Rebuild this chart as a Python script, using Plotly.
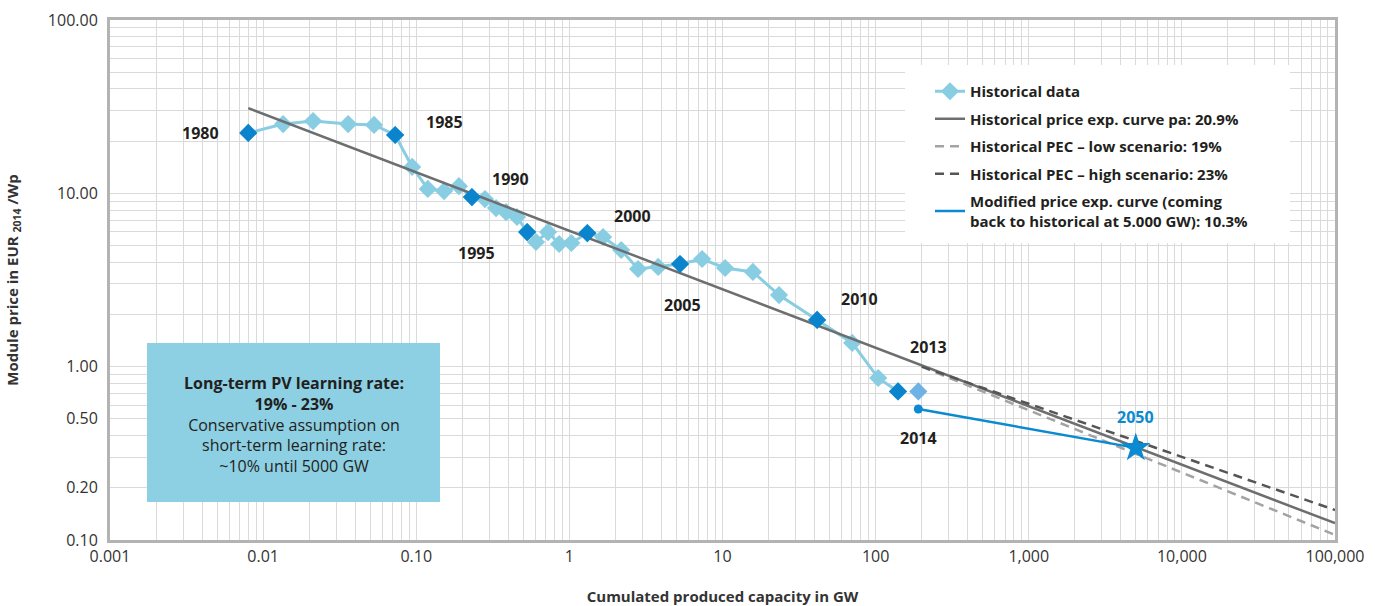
import math
import plotly.graph_objects as go

# Historical module prices, 1980-2013 (cumulated GW, EUR2014/Wp)
years = list(range(1980, 2014))
hist_capacity = [0.008, 0.0135, 0.0212, 0.0359, 0.053, 0.0728, 0.094, 0.119, 0.152, 0.190,
                 0.231, 0.281, 0.332, 0.386, 0.455, 0.530, 0.605, 0.726, 0.857, 1.03,
                 1.31, 1.66, 2.18, 2.81, 3.80, 5.28, 7.36, 10.4, 15.8, 23.4,
                 41.5, 70.3, 104, 140]
hist_price = [22.3, 25.1, 26.1, 25.1, 24.8, 21.7, 14.2, 10.6, 10.3, 11.0,
              9.52, 9.27, 8.22, 7.80, 7.30, 5.98, 5.24, 5.98, 5.10, 5.17,
              5.90, 5.60, 4.71, 3.66, 3.76, 3.91, 4.18, 3.71, 3.52, 2.59,
              1.86, 1.37, 0.86, 0.72]
highlight_years = [1980, 1985, 1990, 1995, 2000, 2005, 2010, 2013]

# 2014 estimate
cap_2014 = [190]
price_2014 = [0.72]

# Experience curves (end points)
pec_capacity = [0.008, 100000]
pec_price = [31.0, 0.125]
low_capacity = [200, 100000]
low_price = [1.0, 0.107]
high_capacity = [200, 100000]
high_price = [1.0, 0.149]
mod_capacity = [190, 5000]
mod_price = [0.57, 0.34]

# Year labels: (capacity, price, text)
year_notes = [
    (0.0039, 22.3, "1980"), (0.154, 25.8, "1985"), (0.41, 12.1, "1990"),
    (0.249, 4.52, "1995"), (2.57, 7.4, "2000"), (5.45, 2.27, "2005"),
    (79, 2.45, "2010"), (220, 1.30, "2013"), (190, 0.387, "2014"),
]
note_2050 = (5000, 0.51, "2050")

# Axis ticks
x_labels = {0.001: "0.001", 0.01: "0.01", 0.1: "0.10", 1: "1", 10: "10", 100: "100",
            1000: "1,000", 10000: "10,000", 100000: "100,000"}
y_labels = {0.1: "0.10", 0.2: "0.20", 0.5: "0.50", 1: "1.00", 10: "10.00", 100: "100.00"}

LIGHT = "#88cde2"
DARK = "#0a84cc"
MID = "#6fb2e4"
BLUE = "#0a8ad0"
TEXT = "#231f20"
FONT = "Open Sans"

# plot area in pixels
L, R, T, B = 110, 1335, 20, 540


def px_x(p):
    return (p - L) / (R - L)


def px_y(p):
    return 1 - (p - T) / (B - T)


def grid_values(lo_exp, hi_exp):
    vals = []
    for e in range(lo_exp, hi_exp):
        for k in range(1, 10):
            vals.append(round(k * 10 ** e, 10))
    vals.append(10 ** hi_exp)
    return vals


def label_for(v, labels):
    for key, txt in labels.items():
        if abs(key - v) < 1e-9 * max(1, v):
            return txt
    return ""


x_ticks = grid_values(-3, 5)
y_ticks = grid_values(-1, 2)
x_text = [label_for(v, x_labels) for v in x_ticks]
y_text = [label_for(v, y_labels) for v in y_ticks]

fig = go.Figure()

fig.add_trace(go.Scatter(
    x=hist_capacity, y=hist_price, mode="lines+markers", name="Historical data",
    legendgroup="a", line=dict(color=LIGHT, width=3),
    marker=dict(symbol="diamond", size=14, color=LIGHT),
))
fig.add_trace(go.Scatter(
    x=pec_capacity, y=pec_price, mode="lines", name="Historical price exp. curve pa: 20.9%",
    legendgroup="b", line=dict(color="#6d6e70", width=2.5),
))
fig.add_trace(go.Scatter(
    x=low_capacity, y=low_price, mode="lines", name="Historical PEC \u2013 low scenario: 19%",
    legendgroup="c", line=dict(color="#a3a3a3", width=2.5, dash="9px,6px"),
))
fig.add_trace(go.Scatter(
    x=high_capacity, y=high_price, mode="lines", name="Historical PEC \u2013 high scenario: 23%",
    legendgroup="d", line=dict(color="#555555", width=2.5, dash="9px,6px"),
))

hx = [c for c, y in zip(hist_capacity, years) if y in highlight_years]
hy = [p for p, y in zip(hist_price, years) if y in highlight_years]
fig.add_trace(go.Scatter(
    x=hx, y=hy, mode="markers", showlegend=False, legendgroup="a",
    marker=dict(symbol="diamond", size=14, color=DARK),
))
fig.add_trace(go.Scatter(
    x=cap_2014, y=price_2014, mode="markers", showlegend=False, legendgroup="a",
    marker=dict(symbol="diamond", size=14, color=MID),
))
fig.add_trace(go.Scatter(
    x=mod_capacity, y=mod_price, mode="lines", legendgroup="e",
    name="Modified price exp. curve (coming<br>back to historical at 5.000 GW): 10.3%",
    line=dict(color=BLUE, width=2.5),
))
fig.add_trace(go.Scatter(
    x=mod_capacity, y=mod_price, mode="markers", showlegend=False, legendgroup="e",
    marker=dict(symbol=["circle", "star"], size=[9, 22], color=BLUE, opacity=1,
                line=dict(width=0)),
))

# Year labels (log axes take log10 positions for annotations)
for x, y, t in year_notes:
    fig.add_annotation(x=math.log10(x), y=math.log10(y), xref="x", yref="y",
                       text=f"<b>{t}</b>", showarrow=False,
                       font=dict(family=FONT, size=16, color=TEXT))
fig.add_annotation(x=math.log10(note_2050[0]), y=math.log10(note_2050[1]), xref="x", yref="y",
                   text=f"<b>{note_2050[2]}</b>", showarrow=False,
                   font=dict(family=FONT, size=16, color=BLUE))

# White panel behind the legend (no data falls in this region)
fig.add_shape(type="rect", xref="paper", yref="paper",
              x0=px_x(905), x1=px_x(1290), y0=px_y(243), y1=px_y(65),
              fillcolor="white", line=dict(width=0), layer="above")

# Learning-rate note box
fig.add_shape(type="rect", xref="paper", yref="paper",
              x0=px_x(147), x1=px_x(440), y0=px_y(502), y1=px_y(343),
              fillcolor="#8dcfe3", line=dict(width=0), layer="above")
fig.add_annotation(
    xref="paper", yref="paper", x=px_x(293.5), y=px_y(424),
    xanchor="center", yanchor="middle",
    text=("<b>Long-term PV learning rate:</b><br><b>19% - 23%</b><br>Conservative assumption on"
          "<br>short-term learning rate:<br>~10% until 5000 GW"),
    showarrow=False, align="center", font=dict(family=FONT, size=16, color=TEXT),
)

fig.update_xaxes(
    type="log", range=[-3, 5], tickvals=x_ticks, ticktext=x_text, ticks="",
    showgrid=True, gridcolor="#dadada", gridwidth=1.3,
    showline=True, linecolor="#b3b3b3", linewidth=3, mirror=True,
    tickfont=dict(family=FONT, size=16, color="#333333"),
    title=dict(text="<b>Cumulated produced capacity in GW</b>", standoff=26,
               font=dict(family=FONT, size=15, color="#333333")),
    zeroline=False, automargin=False,
)
fig.update_yaxes(
    type="log", range=[-1, 2], tickvals=y_ticks, ticktext=y_text, ticks="",
    showgrid=True, gridcolor="#dadada", gridwidth=1.3,
    showline=True, linecolor="#b3b3b3", linewidth=3, mirror=True,
    tickfont=dict(family=FONT, size=16, color="#333333"),
    ticklabelstandoff=6,
    title=dict(text="<b>Module price in EUR <sub>2014</sub> /Wp</b>", standoff=26,
               font=dict(family=FONT, size=15, color="#333333")),
    zeroline=False, automargin=False,
)

fig.update_layout(
    width=1375, height=606,
    margin=dict(l=L, r=1375 - R, t=T, b=606 - B),
    paper_bgcolor="white", plot_bgcolor="white",
    font=dict(family=FONT, color=TEXT),
    legend=dict(
        x=px_x(930), y=px_y(75), xanchor="left", yanchor="top",
        bgcolor="rgba(0,0,0,0)", borderwidth=0,
        font=dict(family=FONT, size=15, color=TEXT, weight="bold"),
        tracegroupgap=5, itemwidth=30,
    ),
    showlegend=True,
)

fig.write_html("out.html")
